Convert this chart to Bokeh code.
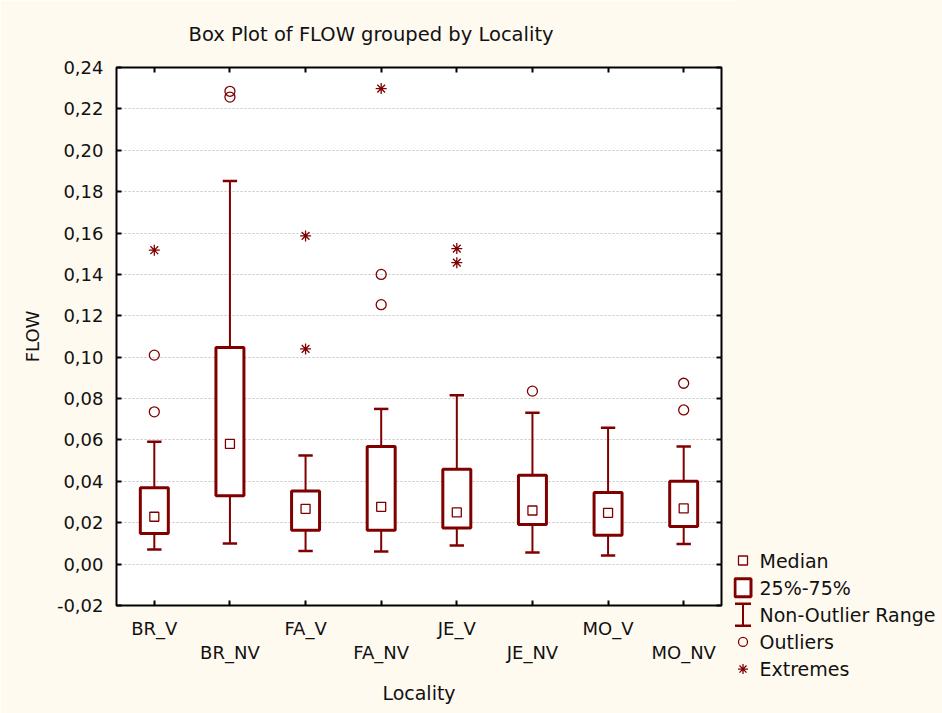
import numpy as np
from bokeh.plotting import figure
from bokeh.models import (Range1d, FixedTicker, LinearAxis, CustomJSTickFormatter,
                          CustomLabelingPolicy)
from bokeh.layouts import row
from bokeh.embed import file_html
from bokeh.resources import INLINE
from bokeh.core.properties import value

# ---------------- data ----------------
categories = ["BR_V", "BR_NV", "FA_V", "FA_NV", "JE_V", "JE_NV", "MO_V", "MO_NV"]
whisker_low = [0.0071, 0.0100, 0.0063, 0.0061, 0.0090, 0.0056, 0.0042, 0.0097]
q1 = [0.0148, 0.0330, 0.0164, 0.0164, 0.0175, 0.0192, 0.0139, 0.0182]
median = [0.0229, 0.0581, 0.0267, 0.0277, 0.0250, 0.0259, 0.0248, 0.0269]
q3 = [0.0369, 0.1047, 0.0353, 0.0569, 0.0459, 0.0430, 0.0346, 0.0401]
whisker_high = [0.0591, 0.1852, 0.0525, 0.0750, 0.0816, 0.0731, 0.0659, 0.0569]

outlier_cat = ["BR_V", "BR_V", "BR_NV", "BR_NV", "FA_NV", "FA_NV", "JE_NV", "MO_NV", "MO_NV"]
outlier_val = [0.1010, 0.0736, 0.2285, 0.2257, 0.1400, 0.1254, 0.0836, 0.0874, 0.0745]
extreme_cat = ["BR_V", "FA_V", "FA_V", "FA_NV", "JE_V", "JE_V"]
extreme_val = [0.1517, 0.1586, 0.1040, 0.2298, 0.1525, 0.1457]

y_ticks = [-0.02, 0.00, 0.02, 0.04, 0.06, 0.08, 0.10, 0.12, 0.14, 0.16, 0.18, 0.20, 0.22, 0.24]
legend_labels = ["Median", "25%-75%", "Non-Outlier Range", "Outliers", "Extremes"]

title_text = "Box Plot of FLOW grouped by  Locality"
x_title = "Locality"
y_title = "FLOW"

# ---------------- style ----------------
CREAM = "#fffaf0"
RED = "#800000"
FONT = "DejaVu Sans"
TXT = "#111111"

pos = {c: i for i, c in enumerate(categories)}
xs = [pos[c] for c in categories]
ox = [pos[c] for c in outlier_cat]
ex = [pos[c] for c in extreme_cat]

BOX_W = 0.37
CAP_HALF = 0.095

no_labels = CustomLabelingPolicy(code="return new Set()")
even_labels = CustomLabelingPolicy(code="""
const r = new Set()
for (const i of indices) { if (i % 2 == 0) r.add(i) }
return r
""")
blank = CustomJSTickFormatter(code="return ''")

p = figure(width=733, height=713,
           x_range=Range1d(-0.5, len(categories) - 0.5),
           y_range=Range1d(y_ticks[0], y_ticks[-1]),
           output_backend="svg", toolbar_location=None,
           min_border_left=116, min_border_right=12,
           min_border_top=67, min_border_bottom=108,
           background_fill_color="white", border_fill_color=CREAM,
           outline_line_color="black", outline_line_width=2)
p.frame_align = False

p.title.text = title_text
p.title.align = "left"
p.title.offset = 72
p.title.text_font = FONT
p.title.text_font_size = "19.5px"
p.title.text_font_style = "normal"
p.title.text_color = TXT

# y axis (left)
yt = FixedTicker(ticks=y_ticks)
yax = p.yaxis[0]
yax.ticker = yt
yax.formatter = CustomJSTickFormatter(code="return tick.toFixed(2).replace('.', ',');")
yax.axis_label = y_title
yax.axis_label_text_font = FONT
yax.axis_label_text_font_size = "18px"
yax.axis_label_text_font_style = "normal"
yax.axis_label_text_color = TXT
yax.axis_label_standoff = 11
yax.major_label_text_font = FONT
yax.major_label_text_font_size = "18px"
yax.major_label_text_color = TXT
yax.major_label_standoff = 13
yax.major_tick_in = 5
yax.major_tick_out = 0
yax.major_tick_line_width = 2
yax.minor_tick_line_color = None
yax.axis_line_color = None

# x axis A: ticks at all categories, labels at even positions
xt = FixedTicker(ticks=xs)
xax = p.xaxis[0]
xax.ticker = xt
xax.major_label_overrides = {i: categories[i] for i in xs}
xax.major_label_policy = even_labels
xax.major_label_text_font = FONT
xax.major_label_text_font_size = "18px"
xax.major_label_text_color = TXT
xax.major_label_standoff = 12
xax.major_tick_in = 5
xax.major_tick_out = 0
xax.major_tick_line_width = 2
xax.minor_tick_line_color = None
xax.axis_line_color = None

# x axis B: staggered labels at odd positions
odd = [i for i in xs if i % 2 == 1]
xb = LinearAxis(ticker=FixedTicker(ticks=odd),
                major_label_overrides={i: categories[i] for i in odd},
                major_label_text_font=FONT, major_label_text_font_size="18px",
                major_label_text_color=TXT,
                major_label_standoff=-6,
                major_tick_line_color=None, minor_tick_line_color=None,
                axis_line_color=None,
                axis_label=x_title, axis_label_text_font=FONT,
                axis_label_text_font_size="19px", axis_label_text_font_style="normal",
                axis_label_text_color=TXT,
                axis_label_standoff=16)
p.add_layout(xb, "below")

# top and right axes: inward ticks only
top = LinearAxis(ticker=FixedTicker(ticks=xs), major_label_policy=no_labels,
                 major_label_text_font_size="10px",
                 major_label_standoff=6, major_tick_in=5, major_tick_out=0,
                 major_tick_line_width=2, minor_tick_line_color=None, axis_line_color=None)
p.add_layout(top, "above")
right = LinearAxis(ticker=FixedTicker(ticks=y_ticks), major_label_policy=no_labels,
                   formatter=blank, major_label_text_font_size="1px",
                   major_label_standoff=0, major_tick_in=5, major_tick_out=0,
                   major_tick_line_width=2, minor_tick_line_color=None, axis_line_color=None)
p.add_layout(right, "right")

p.xgrid.visible = False
p.ygrid.ticker = yt
p.ygrid.grid_line_color = "#c4c4c4"
p.ygrid.grid_line_dash = "2 2"
p.ygrid.grid_line_width = 1

# whisker stems and caps
p.segment(x0=xs, y0=whisker_low, x1=xs, y1=whisker_high, line_color=RED, line_width=2)
p.segment(x0=[x - CAP_HALF for x in xs], y0=whisker_low,
          x1=[x + CAP_HALF for x in xs], y1=whisker_low, line_color=RED, line_width=2.5)
p.segment(x0=[x - CAP_HALF for x in xs], y0=whisker_high,
          x1=[x + CAP_HALF for x in xs], y1=whisker_high, line_color=RED, line_width=2.5)
# boxes
p.vbar(x=xs, width=BOX_W, bottom=q1, top=q3, fill_color="white",
       line_color=RED, line_width=3)
# medians
p.scatter(x=xs, y=median, marker="square", size=9, fill_color="white",
          line_color=RED, line_width=1.3)
# outliers / extremes
p.scatter(x=ox, y=outlier_val, marker="circle", size=10, fill_alpha=0,
          line_color=RED, line_width=1.3)
p.scatter(x=ex, y=extreme_val, marker="asterisk", size=11,
          line_color=RED, line_width=1.3)

# ---------------- legend panel ----------------
LW, LH = 209, 713
lf = figure(width=LW, height=LH, x_range=Range1d(0, LW), y_range=Range1d(0, LH),
            output_backend="svg", toolbar_location=None, min_border=0,
            x_axis_location=None, y_axis_location=None,
            background_fill_color=CREAM, border_fill_color=CREAM,
            outline_line_color=None)
lf.frame_align = False
lf.grid.visible = False

LEG_X = 9.5
LEG_TX = 26
LEG_Y0 = 153
LEG_DY = 27.15
leg_y = [LEG_Y0 - i * LEG_DY for i in range(len(legend_labels))]

lf.scatter(x=[LEG_X], y=[leg_y[0]], marker="square", size=9, fill_color="white",
           line_color=RED, line_width=1.3)
lf.rect(x=[LEG_X], y=[leg_y[1]], width=16, height=18, fill_color="white",
        line_color=RED, line_width=3)
lf.segment(x0=[LEG_X], y0=[leg_y[2] - 11], x1=[LEG_X], y1=[leg_y[2] + 11],
           line_color=RED, line_width=2)
lf.segment(x0=[LEG_X - 8, LEG_X - 8], y0=[leg_y[2] - 11, leg_y[2] + 11],
           x1=[LEG_X + 8, LEG_X + 8], y1=[leg_y[2] - 11, leg_y[2] + 11],
           line_color=RED, line_width=2.5)
lf.scatter(x=[LEG_X], y=[leg_y[3]], marker="circle", size=9, fill_alpha=0,
           line_color=RED, line_width=1.3)
lf.scatter(x=[LEG_X], y=[leg_y[4]], marker="asterisk", size=10,
           line_color=RED, line_width=1.3)
lf.text(x=[LEG_TX] * len(legend_labels), y=leg_y, text=legend_labels,
        text_font=value(FONT), text_font_size="19px", text_baseline="middle",
        text_align="left", text_color=TXT)

layout = row(p, lf, spacing=0)
open("out.html", "w").write(file_html(layout, INLINE))
